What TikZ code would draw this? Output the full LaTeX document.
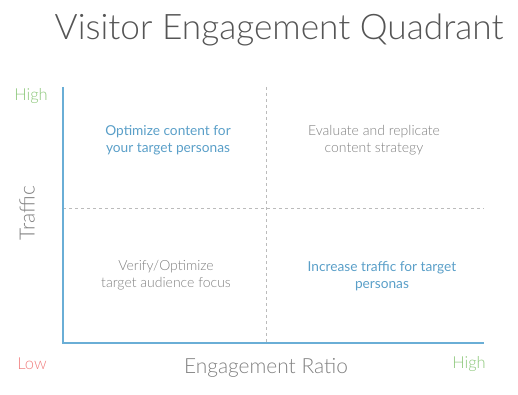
\documentclass[tikz,border=0pt]{standalone}
\usepackage{fontspec}
\setmainfont{Lato}[UprightFont=* Light]
\newfontfamily\latoreg{Lato}
\usetikzlibrary{calc}
\definecolor{axisblue}{HTML}{6AAED6}
\definecolor{txtblue}{HTML}{5A9FC8}
\definecolor{txtgray}{HTML}{808080}
\definecolor{titlegray}{HTML}{555555}
\definecolor{hgreen}{HTML}{8CC77A}
\definecolor{lred}{HTML}{F08080}
\definecolor{dashgray}{HTML}{BBBBBB}
\tikzset{
  axis/.style={draw=axisblue, line width=2.6pt},
  divider/.style={draw=dashgray, line width=0.8pt, dash pattern=on 3pt off 3pt},
  quad/.style={align=center, font=\fontsize{14}{17}\selectfont},
  quadblue/.style={align=center, text=txtblue, font=\latoreg\fontsize{13.7}{17}\selectfont},
  endlabel/.style={font=\fontsize{16.5}{18}\selectfont},
}
\begin{document}
\begin{tikzpicture}[x=1pt,y=-1pt]
\useasboundingbox (0,0) rectangle (518,395);
\coordinate (top) at (63,87);
\coordinate (origin) at (63,343);
\coordinate (right) at (484,343);
\coordinate (vtop) at (266,87);
\coordinate (vbot) at (266,343);
\coordinate (hleft) at (63,208);
\coordinate (hright) at (484,208);
\draw[divider] (vtop) -- (vbot);
\draw[divider] (hleft) -- (hright);
\draw[axis, line cap=butt] (top) -- (origin) -- (right);
\node[text=titlegray, font=\fontsize{35.2}{40}\selectfont] (title) at (279,30) {Visitor Engagement Quadrant};
\node[endlabel, text=hgreen] (yhigh) at (31,96) {High};
\node[endlabel, text=lred] (xlow) at (32,364) {Low};
\node[endlabel, text=hgreen] (xhigh) at (469,364) {High};
\node[text=txtgray, font=\fontsize{21}{22}\selectfont, rotate=90] (ylabel) at (27,213) {Traffic};
\node[text=txtgray, font=\fontsize{20.9}{22}\selectfont] (xlabel) at (266,368) {Engagement Ratio};
\node[quadblue] (q1) at (168,140) {Optimize content for\\your target personas};
\node[quad, text=txtgray] (q2) at (374,140) {Evaluate and replicate\\content strategy};
\node[quad, text=txtgray] (q3) at (166,275) {Verify/Optimize\\target audience focus};
\node[quadblue] (q4) at (382,276) {Increase traffic for target\\personas};
\end{tikzpicture}
\end{document}
